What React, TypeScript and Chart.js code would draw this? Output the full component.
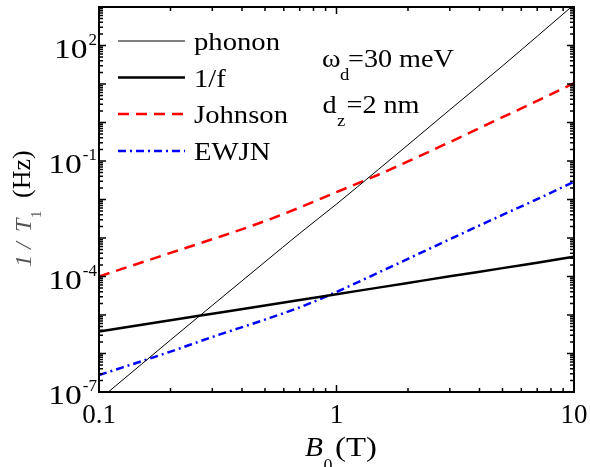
import React, { useEffect, useRef } from "react";
import { Chart, registerables } from "chart.js";

Chart.register(...registerables);

// ---- data (log-log plot) ----
const B_VALUES = [0.1, 0.2, 0.3, 0.5, 0.7, 1, 1.5, 2, 3, 5, 7, 10];
const PHONON = [6.3e-8, 2.24e-6, 1.78e-5, 2.4e-4, 1.32e-3, 7.6e-3, 6.0e-2, 0.263, 2.14, 29.5, 174, 1150];
const ONE_OVER_F = [3.7e-6, 7.3e-6, 1.08e-5, 1.77e-5, 2.45e-5, 3.47e-5, 5.14e-5, 6.8e-5, 1.01e-4, 1.65e-4, 2.29e-4, 3.24e-4];
const JOHNSON = [1.0e-4, 4.1e-4, 9.3e-4, 2.75e-3, 6.2e-3, 1.55e-2, 4.4e-2, 9.8e-2, 0.31, 1.37, 3.63, 10.5];
const EWJN = [2.75e-7, 1.12e-6, 2.69e-6, 7.6e-6, 1.58e-5, 3.98e-5, 1.26e-4, 2.88e-4, 9.3e-4, 3.98e-3, 1.02e-2, 2.88e-2];

const SERIES_NAMES = ["phonon", "1/f", "Johnson", "EWJN"];
const X_TICKS = [0.1, 1, 10];
const X_TICK_LABELS = ["0.1", "1", "10"];
const Y_TICKS = [1e-7, 1e-4, 1e-1, 1e2];
const Y_TICK_EXPONENTS = ["-7", "-4", "-1", "2"];
const X_MIN = 0.1;
const X_MAX = 10;
const Y_MIN = 1e-7;
const Y_MAX = 1e3;

const STYLES = [
  { color: "#000000", width: 1, dash: [] as number[] },
  { color: "#000000", width: 2.5, dash: [] as number[] },
  { color: "#ff0000", width: 2.5, dash: [11, 7] },
  { color: "#0000ff", width: 2.5, dash: [8, 4, 2, 4] },
];

const SERIF = "'Liberation Serif', 'Times New Roman', serif";

function txt(
  ctx: CanvasRenderingContext2D,
  s: string,
  x: number,
  y: number,
  size: number,
  opts: { italic?: boolean; sx?: number; align?: "left" | "right" | "center"; color?: string } = {}
) {
  const sx = opts.sx ?? 1;
  ctx.save();
  ctx.font = `${opts.italic ? "italic " : ""}${size}px ${SERIF}`;
  ctx.fillStyle = opts.color ?? "#000";
  ctx.textBaseline = "alphabetic";
  ctx.textAlign = "left";
  const w = ctx.measureText(s).width * sx;
  let x0 = x;
  if (opts.align === "right") x0 = x - w;
  else if (opts.align === "center") x0 = x - w / 2;
  ctx.translate(x0, y);
  ctx.scale(sx, 1);
  ctx.fillText(s, 0, 0);
  ctx.restore();
  return w;
}

const decorPlugin = {
  id: "decor",
  afterDatasetsDraw(chart: any) {
    const ctx: CanvasRenderingContext2D = chart.ctx;
    const { left, right, top, bottom } = chart.chartArea;
    const xs = chart.scales.x;
    const ys = chart.scales.y;
    ctx.save();
    // frame
    ctx.strokeStyle = "#000";
    ctx.lineWidth = 2;
    ctx.setLineDash([]);
    ctx.strokeRect(left, top, right - left, bottom - top);

    // ticks
    ctx.lineWidth = 1.5;
    const MAJ = 7;
    const MIN = 4;
    ctx.beginPath();
    for (let d = -1; d <= 1; d++) {
      for (let m = 1; m <= 9; m++) {
        const v = m * Math.pow(10, d);
        if (v < X_MIN - 1e-12 || v > X_MAX + 1e-9) continue;
        const px = xs.getPixelForValue(v);
        const len = m === 1 ? MAJ : MIN;
        ctx.moveTo(px, bottom);
        ctx.lineTo(px, bottom - len);
        ctx.moveTo(px, top);
        ctx.lineTo(px, top + len);
      }
    }
    for (let d = -7; d <= 3; d++) {
      for (let m = 1; m <= 9; m++) {
        const v = m * Math.pow(10, d);
        if (v < Y_MIN * 0.999 || v > Y_MAX * 1.001) continue;
        const py = ys.getPixelForValue(v);
        const len = m === 1 ? MAJ : MIN;
        ctx.moveTo(left, py);
        ctx.lineTo(left + len, py);
        ctx.moveTo(right, py);
        ctx.lineTo(right - len, py);
      }
    }
    ctx.stroke();

    // x tick labels
    X_TICKS.forEach((v, i) => {
      const px = xs.getPixelForValue(v);
      txt(ctx, X_TICK_LABELS[i], px, 423, 27, { align: "center" });
    });

    // y tick labels: 10^n
    Y_TICKS.forEach((v, i) => {
      const py = ys.getPixelForValue(v);
      ctx.font = `17px ${SERIF}`;
      const ew = ctx.measureText(Y_TICK_EXPONENTS[i]).width;
      const rightEdge = 97;
      txt(ctx, "10", rightEdge - ew - 1, py + 12, 28, { align: "right", sx: 1.2 });
      txt(ctx, Y_TICK_EXPONENTS[i], rightEdge - ew, py - 1, 17);
    });

    // legend
    const rows = [41, 77.5, 114, 151];
    SERIES_NAMES.forEach((name, i) => {
      const st = STYLES[i];
      ctx.save();
      ctx.strokeStyle = st.color;
      ctx.lineWidth = st.width;
      ctx.setLineDash(st.dash);
      ctx.beginPath();
      ctx.moveTo(118, rows[i]);
      ctx.lineTo(185, rows[i]);
      ctx.stroke();
      ctx.restore();
      txt(ctx, name, 194, rows[i] + 9.3, 24.5, { sx: 1.17 });
    });

    // annotation
    txt(ctx, "\u03c9", 322, 66.7, 24.5, { sx: 1.15 });
    txt(ctx, "d", 340, 80, 17, { sx: 1.1 });
    txt(ctx, "=30 meV", 348, 66.7, 24.5, { sx: 1.15 });
    txt(ctx, "d", 322.5, 113.3, 24.5, { sx: 1.15 });
    txt(ctx, "z", 337, 126, 17, { sx: 1.1 });
    txt(ctx, "=2 nm", 346.5, 113.3, 24.5, { sx: 1.15 });

    // x axis title
    txt(ctx, "B", 305, 456, 28, { italic: true, sx: 1.05 });
    txt(ctx, "0", 323.5, 472, 18);
    txt(ctx, "(T)", 335, 456, 28, { sx: 1.17 });

    // y axis title (rotated)
    ctx.save();
    ctx.translate(31, 267);
    ctx.rotate(-Math.PI / 2);
    txt(ctx, "1", 0, 0, 24, { italic: true, color: "#555" });
    txt(ctx, "/", 18, 0, 24, { italic: true, color: "#555" });
    txt(ctx, "T", 35, 0, 24, { italic: true, color: "#555" });
    txt(ctx, "1", 49, 10, 15, { color: "#555" });
    txt(ctx, "(Hz)", 69, -1, 26);
    ctx.restore();

    ctx.restore();
  },
};

export default function App() {
  const ref = useRef<HTMLCanvasElement | null>(null);
  useEffect(() => {
    if (!ref.current) return;
    const series = [PHONON, ONE_OVER_F, JOHNSON, EWJN];
    const chart = new Chart(ref.current, {
      type: "line",
      data: {
        datasets: series.map((vals, i) => ({
          label: SERIES_NAMES[i],
          data: B_VALUES.map((b, j) => ({ x: b, y: vals[j] })),
          borderColor: STYLES[i].color,
          borderWidth: STYLES[i].width,
          borderDash: STYLES[i].dash,
          pointRadius: 0,
          fill: false,
          cubicInterpolationMode: "monotone" as const,
        })),
      },
      options: {
        animation: false,
        responsive: false,
        layout: { padding: { left: 99, top: 7, right: 16, bottom: 75 } },
        plugins: { legend: { display: false }, tooltip: { enabled: false } },
        scales: {
          x: { type: "logarithmic", min: X_MIN, max: X_MAX, display: false },
          y: { type: "logarithmic", min: Y_MIN, max: Y_MAX, display: false },
        },
      },
      plugins: [decorPlugin],
    });
    return () => chart.destroy();
  }, []);
  return (
    <div style={{ position: "absolute", left: 0, top: 0, width: 590, height: 467, background: "#fff" }}>
      <canvas ref={ref} width={590} height={467} style={{ display: "block" }} />
    </div>
  );
}
